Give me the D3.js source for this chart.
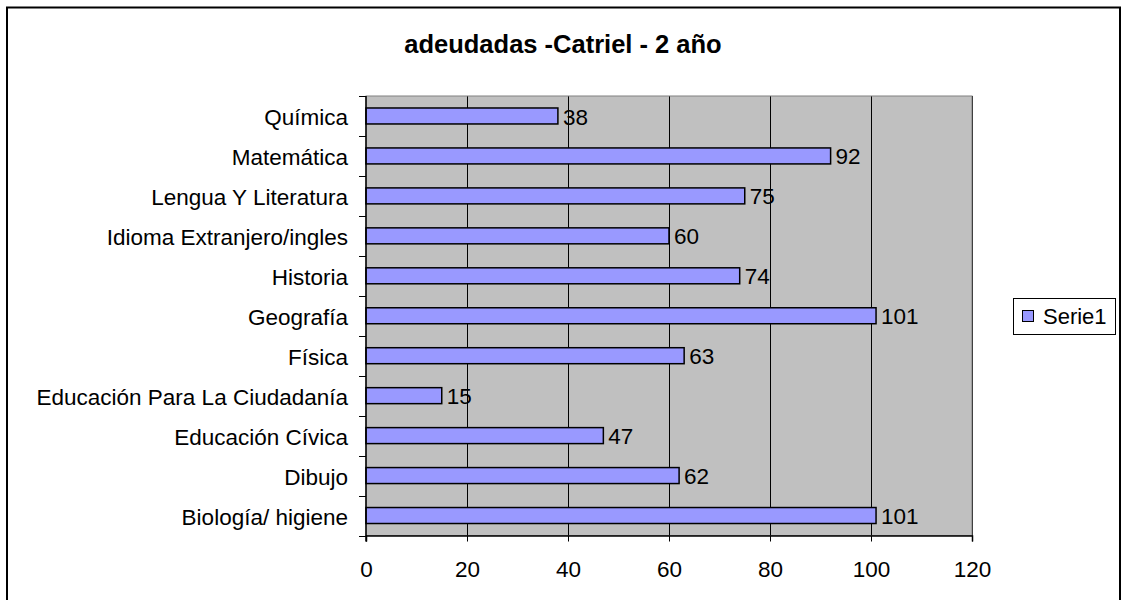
<!DOCTYPE html>
<html><head><meta charset="utf-8">
<script src="https://cdn.jsdelivr.net/npm/d3@7/dist/d3.min.js"></script>
<style>body{margin:0;background:#fff}svg{display:block;font-family:"Liberation Sans",Arial,sans-serif}</style>
</head><body>
<svg id="c" width="1123" height="600"></svg>
<script>
const categories = ["Química","Matemática","Lengua Y Literatura","Idioma Extranjero/ingles","Historia","Geografía","Física","Educación Para La Ciudadanía","Educación Cívica","Dibujo","Biología/ higiene"];
const values = [38,92,75,60,74,101,63,15,47,62,101];
const xTicks = [0,20,40,60,80,100,120];
const seriesName = "Serie1";
const title = "adeudadas -Catriel - 2 año";

const svg = d3.select("#c");
svg.append("rect").attr("x",7).attr("y",7.5).attr("width",1113).attr("height",600).attr("fill","#fff").attr("stroke","#000").attr("stroke-width",2);

const L=366, R=972, T=96, B=535.5;
const FS = 22.5;
const x = d3.scaleLinear().domain([0,120]).range([L,R]);
const y = d3.scaleBand().domain(categories).range([T,B]).paddingInner(0.6).paddingOuter(0.3);
const yb = d3.scaleBand().domain(categories).range([T,B]);

svg.append("rect").attr("x",L).attr("y",T).attr("width",R-L).attr("height",B-T).attr("fill","#c0c0c0");
svg.append("g").selectAll("line").data(xTicks.slice(1)).join("line")
  .attr("x1",d=>Math.round(x(d))+0.5).attr("x2",d=>Math.round(x(d))+0.5).attr("y1",T).attr("y2",B)
  .attr("stroke","#000").attr("stroke-width",1);
svg.append("rect").attr("x",L).attr("y",T).attr("width",R-L).attr("height",B-T).attr("fill","none").attr("stroke","#808080").attr("stroke-width",1);

svg.append("g").selectAll("rect").data(values).join("rect")
  .attr("x",L).attr("y",(d,i)=>y(categories[i])).attr("width",d=>x(d)-L).attr("height",y.bandwidth())
  .attr("fill","#9999ff").attr("stroke","#000").attr("stroke-width",1.5);

svg.append("g").selectAll("text").data(values).join("text")
  .attr("x",d=>x(d)+5).attr("y",(d,i)=>y(categories[i])+y.bandwidth()/2).attr("dy","0.38em")
  .attr("font-size",FS).text(d=>d);

// axes
const ax = svg.append("g").attr("transform",`translate(0,${B})`).call(d3.axisBottom(x).tickValues(xTicks).tickSize(6));
ax.select(".domain").attr("stroke","#000").attr("stroke-width",1.5);
ax.selectAll(".tick line").attr("stroke","#000");
ax.selectAll("text").attr("font-size",FS).attr("font-family","Liberation Sans, Arial, sans-serif").attr("fill","#000")
  .attr("y",41.5).attr("dy",null);

const ay = svg.append("g").attr("transform",`translate(${L},0)`);
ay.append("line").attr("x1",0).attr("x2",0).attr("y1",T).attr("y2",B+6).attr("stroke","#000").attr("stroke-width",1.5);
const bounds = categories.map(c=>yb(c)).concat([B]);
ay.selectAll("line.t").data(bounds).join("line").attr("class","t")
  .attr("x1",-7).attr("x2",0).attr("y1",d=>Math.round(d)+0.5).attr("y2",d=>Math.round(d)+0.5).attr("stroke","#000");
ay.selectAll("text").data(categories).join("text")
  .attr("x",-18).attr("y",d=>yb(d)+yb.bandwidth()/2).attr("dy","0.42em").attr("text-anchor","end")
  .attr("font-size",FS).text(d=>d);

svg.append("text").attr("x",563).attr("y",53).attr("text-anchor","middle").attr("font-size",25.5).attr("font-weight","bold").text(title);

// legend
const lg = svg.append("g");
lg.append("rect").attr("x",1013.5).attr("y",298.5).attr("width",102).attr("height",36).attr("fill","#fff").attr("stroke","#000");
lg.append("rect").attr("x",1022.5).attr("y",310.5).attr("width",11).attr("height",11).attr("fill","#9999ff").attr("stroke","#000");
lg.append("text").attr("x",1043).attr("y",316).attr("dy","0.38em").attr("font-size",22).text(seriesName);
</script>
</body></html>
